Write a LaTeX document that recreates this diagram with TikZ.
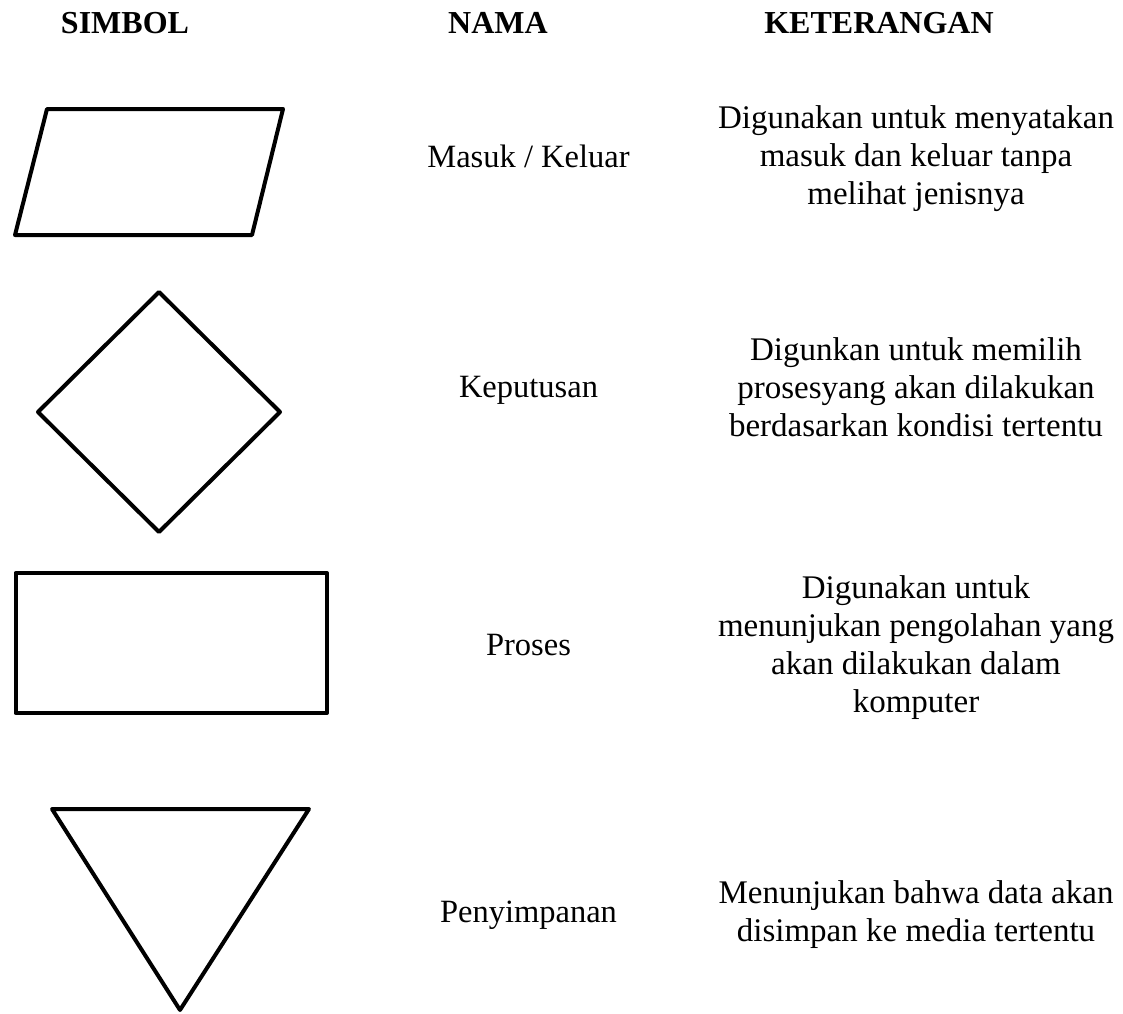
\documentclass[tikz,border=0pt]{standalone}
\usepackage{fontspec}
\setmainfont{Liberation Serif}
\usepackage{tikz}
\usetikzlibrary{positioning}
\tikzset{
  fcshape/.style={
    line width=4pt,
    line join=round,
    draw=black
  },
  fchead/.style={
    font=\fontsize{32pt}{38pt}\selectfont\bfseries,
    anchor=base,
    inner sep=0pt
  },
  fcname/.style={
    font=\fontsize{32.5pt}{38pt}\selectfont,
    anchor=base,
    inner sep=0pt
  },
  fcdesc/.style={
    font=\fontsize{33pt}{38pt}\selectfont,
    align=center,
    anchor=base,
    inner sep=0pt
  }
}
\begin{document}
\begin{tikzpicture}[x=1pt,y=-1pt]
  \useasboundingbox (0,0) rectangle (1123,1013);

  % column heads
  \node[fchead] (hsimbol) at (125,33) {SIMBOL};
  \node[fchead] (hnama) at (498,33) {NAMA};
  \node[fchead] (hket) at (879,33) {KETERANGAN};

  % symbols
  \draw[fcshape] (47,109) -- (283,109) -- (252,235) -- (15,235) -- cycle;
  \draw[fcshape] (159,292) -- (280,412) -- (159,532) -- (38,412) -- cycle;
  \draw[fcshape] (15.5,573) rectangle (327,713);
  \draw[fcshape] (52,809) -- (309,809) -- (180,1010) -- cycle;

  % names
  \node[fcname] (nio) at (528.5,167) {Masuk / Keluar};
  \node[fcname] (ndecision) at (528.5,397) {Keputusan};
  \node[fcname] (nprocess) at (528.5,655) {Proses};
  \node[fcname] (nstorage) at (528.5,922) {Penyimpanan};

  % descriptions (anchored at the last line)
  \node[fcdesc] (dio) at (916,204)
    {Digunakan untuk menyatakan\\masuk dan keluar tanpa\\melihat jenisnya};
  \node[fcdesc] (ddecision) at (916,436)
    {Digunkan untuk memilih\\prosesyang akan dilakukan\\berdasarkan kondisi tertentu};
  \node[fcdesc] (dprocess) at (916,712)
    {Digunakan untuk\\menunjukan pengolahan yang\\akan dilakukan dalam\\komputer};
  \node[fcdesc] (dstorage) at (916,941)
    {Menunjukan bahwa data akan\\disimpan ke media tertentu};
\end{tikzpicture}
\end{document}
